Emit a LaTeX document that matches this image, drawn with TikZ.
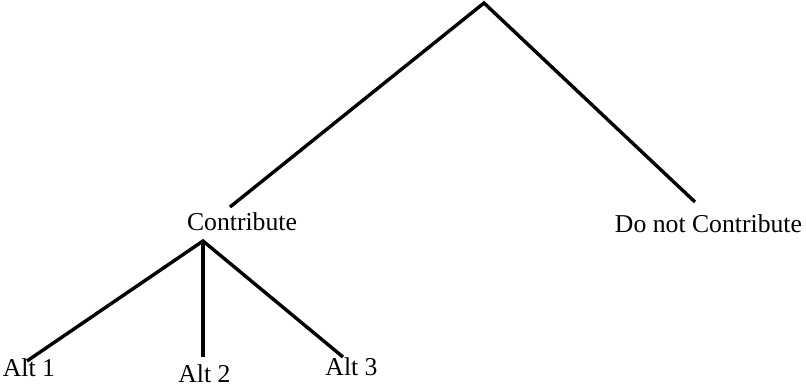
\documentclass[tikz,border=0pt]{standalone}
\usepackage{fontspec}
\setmainfont{Liberation Serif}
\begin{document}
\begin{tikzpicture}[x=1pt,y=-1pt,
  branch/.style={line width=3.4pt, line cap=butt, line join=miter},
  lbl/.style={anchor=base, inner sep=0pt, font=\fontsize{25.7}{30}\selectfont}]
\useasboundingbox (0,0) rectangle (806,387);
% end points of the branches
\coordinate (root) at (484,3);
\coordinate (cTop) at (230,207);
\coordinate (dTop) at (695,202);
\coordinate (fork) at (203,241);
\coordinate (a1Top) at (27,361);
\coordinate (a2Top) at (203,357);
\coordinate (a3Top) at (343,357);
% labels
\node[lbl] (contrib) at (242,231) {Contribute};
\node[lbl] (notcontrib) at (708.5,233) {Do not Contribute};
\node[lbl] (alt1) at (29,376) {Alt 1};
\node[lbl] (alt2) at (204.5,382.5) {Alt 2};
\node[lbl] (alt3) at (351.5,375.5) {Alt 3};
% branches
\draw[branch] (cTop) -- (root) -- (dTop);
\draw[branch] (a1Top) -- (fork) -- (a3Top);
\draw[branch] (fork) -- (a2Top);
\end{tikzpicture}
\end{document}
